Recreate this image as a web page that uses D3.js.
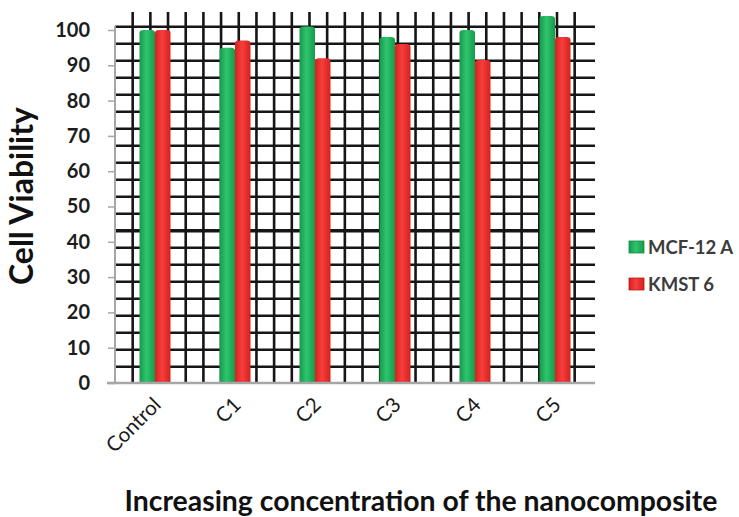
<!DOCTYPE html>
<html>
<head>
<meta charset="utf-8">
<script src="https://cdn.jsdelivr.net/npm/d3@7"></script>
<style>
  html, body { margin: 0; padding: 0; background: #fff; }
  svg { display: block; }
  text { font-family: Lato, "Open Sans", sans-serif; }
</style>
</head>
<body>
<svg id="chart" width="739" height="517"></svg>
<script>
// Cell viability per treatment group
const categories = ["Control", "C1", "C2", "C3", "C4", "C5"];
const seriesNames = ["MCF-12 A", "KMST 6"];
const mcf12a = [100, 95, 101, 98, 100, 104];
const kmst6  = [100, 97, 92, 96, 91.5, 98];
const yTicks = [0, 10, 20, 30, 40, 50, 60, 70, 80, 90, 100];

const svg = d3.select("#chart");
const W = 739, H = 517;
svg.append("rect").attr("width", W).attr("height", H).attr("fill", "#fff");

const plot = { left: 115, right: 595, top: 30, bottom: 383 };

const x = d3.scaleBand()
  .domain(categories)
  .range([plot.left, plot.right])
  .paddingInner(0.6125)
  .paddingOuter(0.30625);

const xs = d3.scaleBand()
  .domain(seriesNames)
  .range([0, x.bandwidth()]);

const y = d3.scaleLinear().domain([0, 100]).range([plot.bottom, plot.top]);

// Graph-paper background grid
const defs = svg.append("defs");
defs.append("filter").attr("id", "soft")
  .append("feGaussianBlur").attr("stdDeviation", 0.45);

const grid = svg.append("g").attr("class", "grid").attr("filter", "url(#soft)");
const vx = d3.range(1, 27).map(k => plot.left + 17.68 * k);
grid.selectAll("line.v").data(vx).join("line")
  .attr("class", "v")
  .attr("x1", d => d).attr("x2", d => d)
  .attr("y1", 12).attr("y2", plot.bottom)
  .attr("stroke", "#141414").attr("stroke-width", 2.6);
const hy = d3.range(0, 21).map(j => 26.7 + 17 * j);
grid.selectAll("line.h").data(hy).join("line")
  .attr("class", "h")
  .attr("x1", plot.left).attr("x2", plot.right)
  .attr("y1", d => d).attr("y2", d => d)
  .attr("stroke", "#141414")
  .attr("stroke-width", (d, j) => j === 12 ? 3.6 : 2.6);

// Cylinder-style shading for the bars
const shades = [
  ["#169a4b", "#2fc46d", "#169a4b"],
  ["#d91f1f", "#f4403c", "#d91f1f"]
];
shades.forEach((s, i) => {
  const g = defs.append("linearGradient").attr("id", "grad" + i)
    .attr("x1", "0").attr("x2", "1").attr("y1", "0").attr("y2", "0");
  g.append("stop").attr("offset", "0%").attr("stop-color", s[0]);
  g.append("stop").attr("offset", "45%").attr("stop-color", s[1]);
  g.append("stop").attr("offset", "100%").attr("stop-color", s[2]);
});

const rows = categories.map((c, i) => ({ cat: c, vals: [mcf12a[i], kmst6[i]] }));

function barPath(x0, w, yTop, yBot) {
  const r = Math.min(4, w / 2), ry = 3;
  return `M${x0},${yBot} L${x0},${yTop + ry} Q${x0},${yTop} ${x0 + r},${yTop}` +
         ` L${x0 + w - r},${yTop} Q${x0 + w},${yTop} ${x0 + w},${yTop + ry}` +
         ` L${x0 + w},${yBot} Z`;
}

const groups = svg.append("g").selectAll("g").data(rows).join("g")
  .attr("transform", d => `translate(${x(d.cat)},0)`);
groups.selectAll("path").data(d => d.vals.map((v, i) => ({ v, s: seriesNames[i], i })))
  .join("path")
  .attr("d", d => barPath(xs(d.s), xs.bandwidth(), y(d.v), y(0)))
  .attr("fill", d => `url(#grad${d.i})`);

// Axes
const axisColor = "#a6a6a6";
svg.append("line")
  .attr("x1", plot.left).attr("x2", plot.left)
  .attr("y1", y(100) - 4).attr("y2", plot.bottom)
  .attr("stroke", axisColor).attr("stroke-width", 2);
svg.append("line")
  .attr("x1", plot.left - 8).attr("x2", plot.right)
  .attr("y1", plot.bottom).attr("y2", plot.bottom)
  .attr("stroke", axisColor).attr("stroke-width", 2.5);

const yAxis = svg.append("g")
  .attr("transform", `translate(${plot.left},0)`)
  .call(d3.axisLeft(y).tickValues(yTicks).tickSize(7).tickPadding(18));
yAxis.select(".domain").remove();
yAxis.selectAll(".tick line").attr("stroke", axisColor).attr("stroke-width", 1.5);
yAxis.selectAll(".tick text")
  .attr("fill", "#1c1c1c")
  .style("font-family", "Lato, sans-serif")
  .style("font-size", "20px").style("font-weight", "700");

const xAxis = svg.append("g")
  .attr("transform", `translate(0,${plot.bottom})`)
  .call(d3.axisBottom(x).tickSize(0));
xAxis.select(".domain").remove();
xAxis.selectAll(".tick text")
  .attr("text-anchor", "end")
  .attr("dy", 0)
  .attr("transform", "translate(5,21) rotate(-45)")
  .attr("fill", "#1a1a1a")
  .style("font-family", "Lato, sans-serif")
  .style("font-size", "20.5px");

// Titles, sized to their span
function fitText(sel, target) {
  const len = sel.node().getComputedTextLength();
  const fs = parseFloat(sel.style("font-size"));
  sel.style("font-size", (fs * target / len) + "px");
}

const yTitle = svg.append("text")
  .attr("transform", "translate(33,196) rotate(-90)")
  .attr("text-anchor", "middle")
  .attr("fill", "#111")
  .style("font-size", "26px").style("font-weight", "700")
  .text("Cell Viability");
fitText(yTitle, 178);

const xTitle = svg.append("text")
  .attr("x", 421).attr("y", 511)
  .attr("text-anchor", "middle")
  .attr("fill", "#111")
  .style("font-size", "24px").style("font-weight", "700")
  .text("Increasing concentration of the nanocomposite");
fitText(xTitle, 593);

// Legend
const legend = svg.append("g").attr("transform", "translate(629,241)");
const li = legend.selectAll("g").data(seriesNames).join("g")
  .attr("transform", (d, i) => `translate(0,${i * 37})`);
li.append("rect").attr("width", 15).attr("height", 12)
  .attr("fill", (d, i) => `url(#grad${i})`)
  .attr("stroke", (d, i) => i === 0 ? "#158a44" : "#c01818").attr("stroke-width", 0.8);
li.append("text").attr("x", 19).attr("y", 12.5)
  .attr("fill", "#3c3c3c")
  .style("font-size", "18.5px").style("font-weight", "700")
  .text(d => d);
</script>
</body>
</html>
